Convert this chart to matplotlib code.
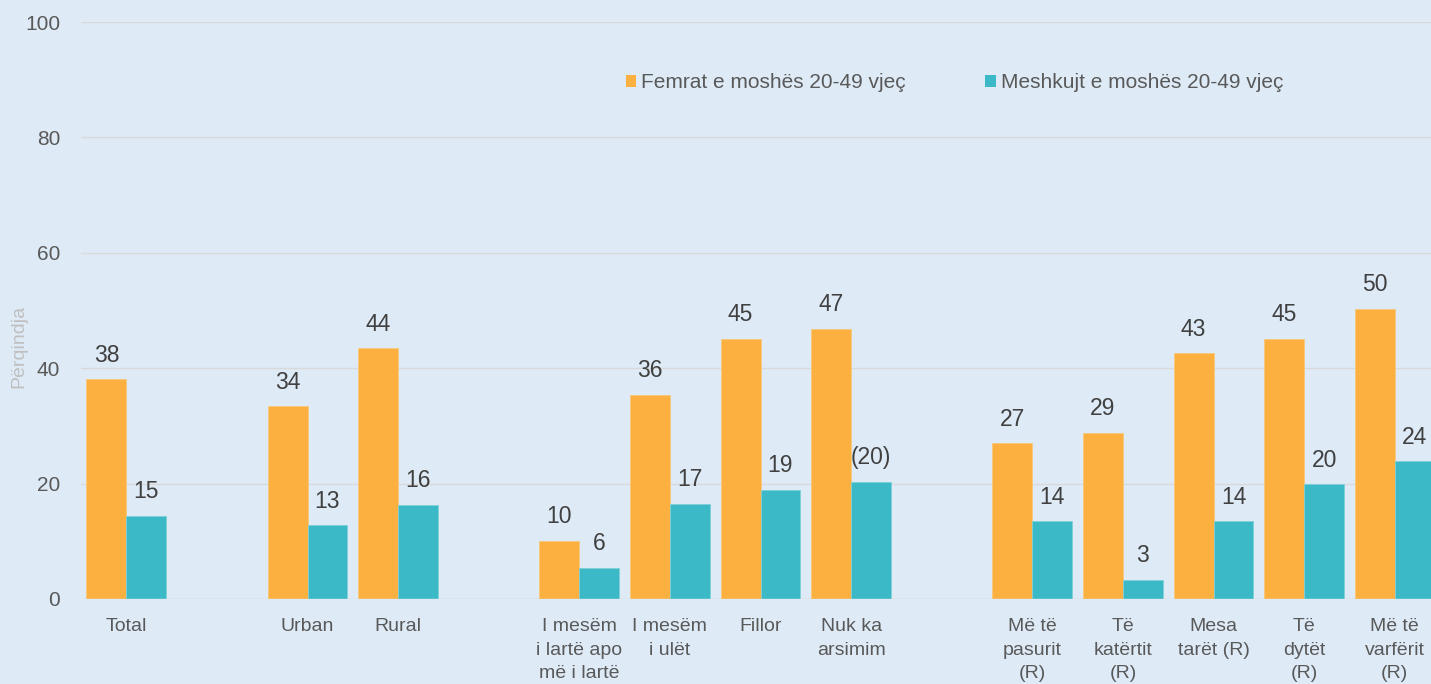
import matplotlib
matplotlib.use("Agg")
import matplotlib.pyplot as plt
import numpy as np
from matplotlib.patches import Patch

plt.rcParams['font.family'] = ['Liberation Sans', 'DejaVu Sans']

categories = ["Total", "", "Urban", "Rural", "",
              "I mesëm\ni lartë apo\nmë i lartë", "I mesëm\ni ulët", "Fillor", "Nuk ka\narsimim", "",
              "Më të\npasurit\n(R)", "Të\nkatërtit\n(R)", "Mesa\ntarët (R)", "Të\ndytët\n(R)", "Më të\nvarfërit\n(R)"]
femrat = [38.1, None, 33.4, 43.5, None, 10.1, 35.4, 45.1, 46.8, None, 27.0, 28.8, 42.6, 45.1, 50.3]
meshkujt = [14.4, None, 12.8, 16.3, None, 5.4, 16.5, 18.9, 20.3, None, 13.5, 3.3, 13.5, 19.9, 23.9]
femrat_labels = ["38", "", "34", "44", "", "10", "36", "45", "47", "", "27", "29", "43", "45", "50"]
meshkujt_labels = ["15", "", "13", "16", "", "6", "17", "19", "(20)", "", "14", "3", "14", "20", "24"]
series_names = ["Femrat e moshës 20-49 vjeç", "Meshkujt e moshës 20-49 vjeç"]
yticks = [0, 20, 40, 60, 80, 100]

bg = "#DEEBF7"
c_f = "#FBB040"
c_m = "#3BB9C6"
txt = "#404040"

fig = plt.figure(figsize=(14.31, 6.84), dpi=100, facecolor=bg)
ax = fig.add_axes([81/1431, 85/684, 1 - 81/1431, 577/684])
ax.set_facecolor(bg)

x = np.arange(len(categories))
w = 0.44
for i in range(len(categories)):
    if femrat[i] is None:
        continue
    ax.bar(x[i] - w/2, femrat[i], width=w, color=c_f, edgecolor="#F8C77A", linewidth=0.6, zorder=3)
    ax.bar(x[i] + w/2, meshkujt[i], width=w, color=c_m, edgecolor="#7FD0D8", linewidth=0.6, zorder=3)
    ax.annotate(femrat_labels[i], (x[i] - w/2, femrat[i]), xytext=(0, 24), textcoords="offset pixels",
                ha="center", va="center", fontsize=16.5, color=txt)
    ax.annotate(meshkujt_labels[i], (x[i] + w/2, meshkujt[i]), xytext=(0, 24), textcoords="offset pixels",
                ha="center", va="center", fontsize=16.5, color=txt)

ax.set_xlim(-0.5, 14.40)
ax.set_ylim(0, 100)
ax.set_yticks(yticks)
ax.set_yticklabels([str(v) for v in yticks], fontsize=15, color="#595959")
ax.set_xticks(x)
ax.set_xticklabels(categories, fontsize=14, color="#595959", linespacing=1.5, va="top")
ax.tick_params(axis="both", length=0)
ax.tick_params(axis="y", pad=15)
ax.tick_params(axis="x", pad=14)
ax.grid(axis="y", color="#D9D9D9", linewidth=1, zorder=0)
for s in ax.spines.values():
    s.set_visible(False)
ax.axhline(0, color="#D9D9D9", linewidth=1, zorder=4)

ax.set_ylabel("Përqindja", fontsize=14, color="#BFBFBF", labelpad=0)
ax.yaxis.set_label_coords(-0.040, 0.437)
ax.yaxis.label.set_va("bottom")

handles = [Patch(facecolor=c_f, edgecolor="none"), Patch(facecolor=c_m, edgecolor="none")]
leg = ax.legend(handles, series_names, loc="center", bbox_to_anchor=(0.647, 0.895), ncol=2,
                frameon=False, fontsize=15, handlelength=0.5, handleheight=0.5,
                handletextpad=0.25, columnspacing=3.8, labelcolor="#595959")

fig.savefig("out.png", dpi=100, facecolor=bg)
